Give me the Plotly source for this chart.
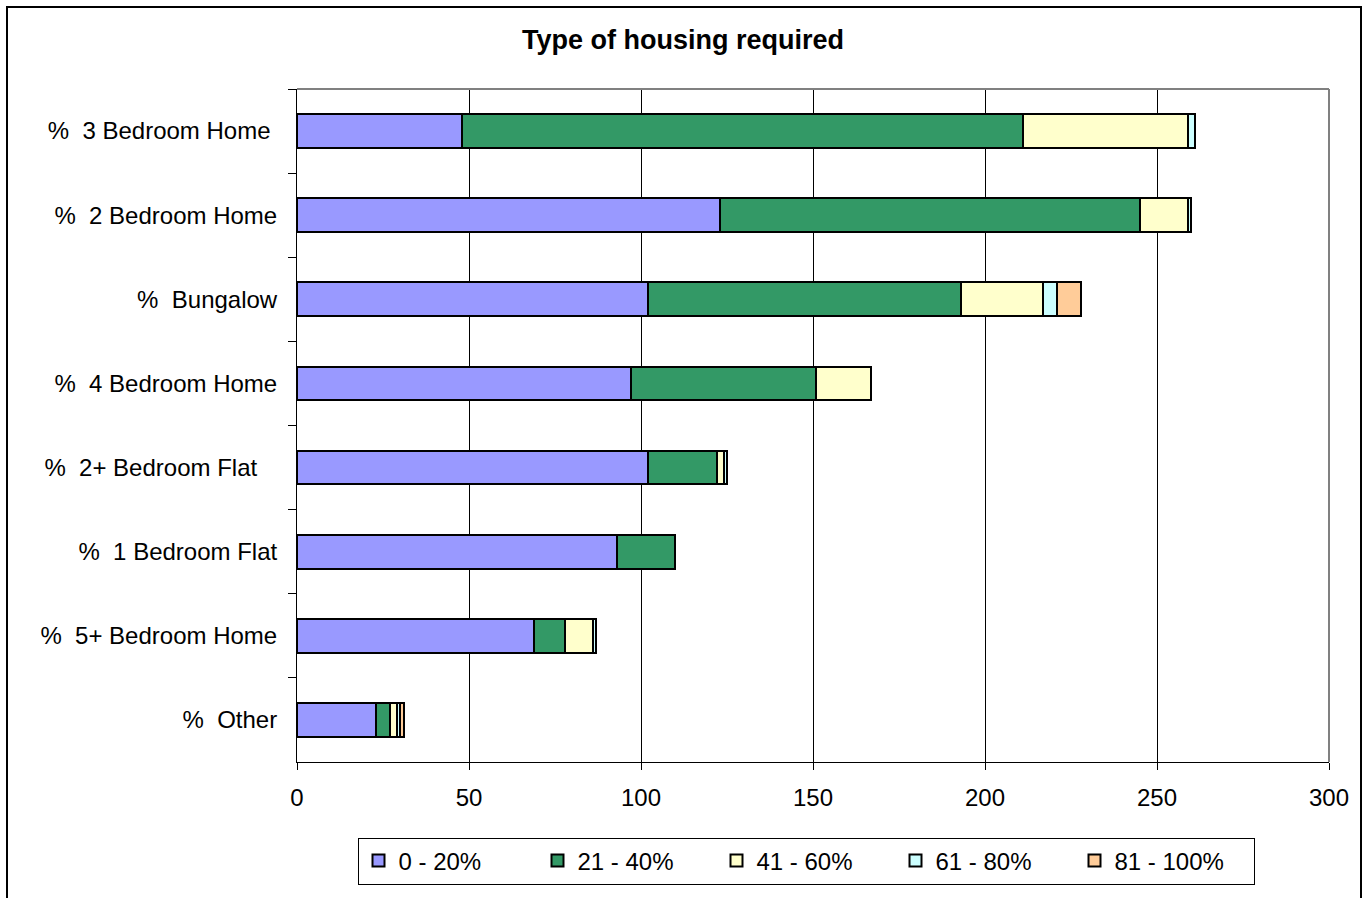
import plotly.graph_objects as go

# Housing types, listed top to bottom
categories = [
    "%\u00a0\u00a03 Bedroom Home\u00a0",
    "%\u00a0\u00a02 Bedroom Home",
    "%\u00a0\u00a0Bungalow",
    "%\u00a0\u00a04 Bedroom Home",
    "%\u00a0\u00a02+ Bedroom Flat\u00a0\u00a0\u00a0",
    "%\u00a0\u00a01 Bedroom Flat",
    "%\u00a0\u00a05+ Bedroom Home",
    "%\u00a0\u00a0Other",
]

series_names = ["0 - 20%", "21 - 40%", "41 - 60%", "61 - 80%", "81 - 100%"]

band_0_20 = [48, 123, 102, 97, 102, 93, 69, 23]
band_21_40 = [163, 122, 91, 54, 20, 17, 9, 4]
band_41_60 = [48, 14, 24, 16, 2, 0, 8, 2]
band_61_80 = [2, 1, 4, 0, 1, 0, 1, 1]
band_81_100 = [0, 0, 7, 0, 0, 0, 0, 1]

series_values = [band_0_20, band_21_40, band_41_60, band_61_80, band_81_100]
series_colors = ["#9999FF", "#339966", "#FFFFCC", "#CCFFFF", "#FFCC99"]

x_ticks = [0, 50, 100, 150, 200, 250, 300]

FONT = "Arial, Liberation Sans, sans-serif"

fig = go.Figure()
for name, vals, col in zip(series_names, series_values, series_colors):
    fig.add_trace(go.Bar(
        y=categories,
        x=[v if v else None for v in vals],
        name=name,
        orientation="h",
        marker=dict(color=col, line=dict(color="black", width=2)),
    ))

# plot area in pixels
L, R, T, B = 297, 1329, 89, 762
W, H = 1366, 898
pw, ph = R - L, B - T

def px_x(x):
    return (x - L) / pw

def px_y(y):
    return (B - y) / ph

fig.update_layout(
    width=W, height=H,
    barmode="stack",
    bargap=0.6,
    margin=dict(l=L, r=W - R, t=T, b=H - B),
    paper_bgcolor="white",
    plot_bgcolor="white",
    font=dict(family=FONT, size=24, color="black"),
    title=dict(
        text="<b>Type of housing required</b>",
        x=0.5, xref="container", xanchor="center",
        y=1 - 40 / H, yref="container", yanchor="middle",
        font=dict(family=FONT, size=27, color="black"),
    ),
    xaxis=dict(
        range=[0, 300], tickvals=x_ticks, ticktext=[str(t) for t in x_ticks],
        showgrid=True, gridcolor="black", gridwidth=1,
        showline=True, linecolor="black", linewidth=1,
        ticks="outside", ticklen=7, tickcolor="black",
        zeroline=False, fixedrange=True,
        tickfont=dict(family=FONT, size=24),
        ticklabelstandoff=7,
    ),
    yaxis=dict(
        autorange="reversed",
        showline=True, linecolor="black", linewidth=1,
        ticks="outside", ticklen=8, tickcolor="black",
        tickson="boundaries", showgrid=False,
        tickfont=dict(family=FONT, size=24),
        ticklabelstandoff=14,
    ),
    legend=dict(
        orientation="h",
        x=px_x(806), xanchor="center",
        y=px_y(861), yanchor="middle",
        bordercolor="black", borderwidth=1,
        entrywidth=134, entrywidthmode="pixels",
        itemwidth=30,
        font=dict(family=FONT, size=24),
        traceorder="normal",
    ),
    shapes=[
        # grey frame on the top and right of the plot area
        dict(type="line", xref="paper", yref="paper", x0=0, x1=1, y0=1, y1=1,
             line=dict(color="#808080", width=2)),
        dict(type="line", xref="paper", yref="paper", x0=1, x1=1, y0=0, y1=1,
             line=dict(color="#808080", width=2)),
        # outer chart border
        dict(type="rect", xref="paper", yref="paper",
             x0=px_x(7), x1=px_x(1361), y0=px_y(7), y1=px_y(H + 5),
             line=dict(color="black", width=2), layer="below"),
    ],
)

fig.write_html("out.html")
